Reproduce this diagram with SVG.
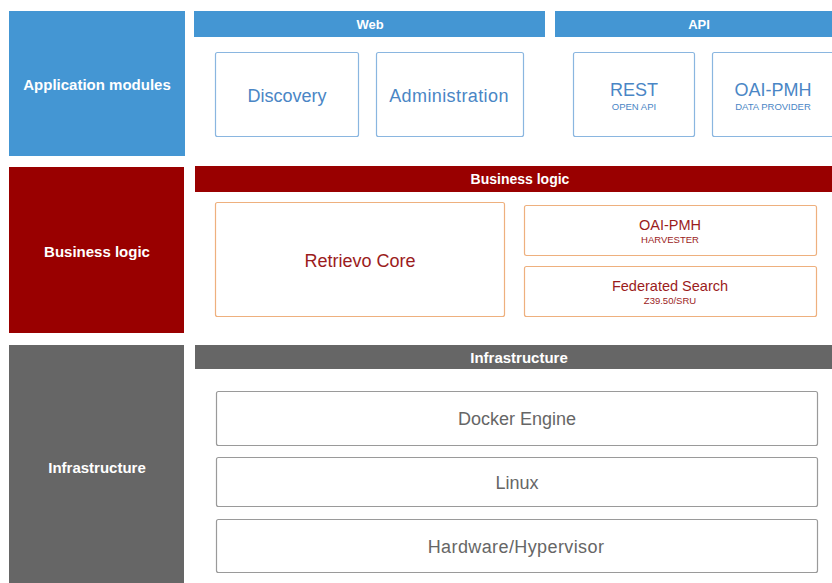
<svg xmlns="http://www.w3.org/2000/svg" width="832" height="583" viewBox="0 0 832 583">
<style>
text{font-family:"Liberation Sans",Arial,sans-serif;text-anchor:middle}
.hdr{fill:#fff;font-weight:bold;font-size:13px}
.side{fill:#fff;font-weight:bold;font-size:15px}
.blue{fill:#4496d3}.red{fill:#990000}.gray{fill:#666666}
.bbox{fill:#fff;stroke:#8ab6e0;stroke-width:1.2}
.rbox{fill:#fff;stroke:#eeb07e;stroke-width:1.2}
.gbox{fill:#fff;stroke:#9a9a9a;stroke-width:1.2}
.bt{fill:#4a86c5;font-size:18px}.bs{fill:#4a86c5;font-size:9.5px}
.rt{fill:#9b1c1c}.rs{fill:#9b1c1c;font-size:9.5px}
.gt{fill:#666666;font-size:18px}
</style>
<g id="app-side"><rect class="blue" x="9" y="11" width="176" height="145"/><text class="side" x="97" y="90">Application modules</text></g>
<g id="web-bar"><rect class="blue" x="194" y="11" width="351" height="26"/><text class="hdr" x="370" y="29">Web</text></g>
<g id="api-bar"><rect class="blue" x="555" y="11" width="290" height="26"/><text class="hdr" x="699" y="29">API</text></g>
<g id="discovery"><rect class="bbox" x="215.5" y="52.5" width="143" height="84" rx="2"/><text class="bt" x="287" y="102">Discovery</text></g>
<g id="administration"><rect class="bbox" x="376.5" y="52.5" width="147" height="84" rx="2"/><text class="bt" x="449" y="102" style="letter-spacing:0.4px">Administration</text></g>
<g id="rest"><rect class="bbox" x="573.5" y="52.5" width="121" height="84" rx="2"/><text class="bt" x="634" y="96">REST</text><text class="bs" x="634" y="110">OPEN API</text></g>
<g id="oai-provider"><rect class="bbox" x="712.5" y="52.5" width="122" height="84" rx="2"/><text class="bt" x="773" y="96">OAI-PMH</text><text class="bs" x="773" y="110">DATA PROVIDER</text></g>

<g id="biz-side"><rect class="red" x="9" y="167" width="175" height="166"/><text class="side" x="97" y="257">Business logic</text></g>
<g id="biz-bar"><rect class="red" x="195" y="166" width="650" height="26"/><text class="hdr" x="520" y="184" style="font-size:14px">Business logic</text></g>
<g id="retrievo-core"><rect class="rbox" x="215.5" y="202.5" width="289" height="114" rx="2"/><text class="rt" x="360" y="267" style="font-size:18px">Retrievo Core</text></g>
<g id="oai-harvester"><rect class="rbox" x="524.5" y="205.5" width="292" height="50" rx="2"/><text class="rt" x="670" y="230" style="font-size:14.5px">OAI-PMH</text><text class="rs" x="670" y="243">HARVESTER</text></g>
<g id="federated-search"><rect class="rbox" x="524.5" y="266.5" width="292" height="50" rx="2"/><text class="rt" x="670" y="291" style="font-size:14.5px">Federated Search</text><text class="rs" x="670" y="304">Z39.50/SRU</text></g>

<g id="infra-side"><rect class="gray" x="9" y="345" width="175" height="245"/><text class="side" x="97" y="473">Infrastructure</text></g>
<g id="infra-bar"><rect class="gray" x="195" y="345" width="650" height="24"/><text class="hdr" x="519" y="363" style="font-size:15px">Infrastructure</text></g>
<g id="docker"><rect class="gbox" x="216.5" y="391.5" width="601" height="54" rx="2"/><text class="gt" x="517" y="425">Docker Engine</text></g>
<g id="linux"><rect class="gbox" x="216.5" y="457.5" width="601" height="49" rx="2"/><text class="gt" x="517" y="489">Linux</text></g>
<g id="hardware"><rect class="gbox" x="216.5" y="519.5" width="601" height="53" rx="2"/><text class="gt" x="516" y="553" style="letter-spacing:0.4px">Hardware/Hypervisor</text></g>
<g id="connectors"></g>
</svg>
